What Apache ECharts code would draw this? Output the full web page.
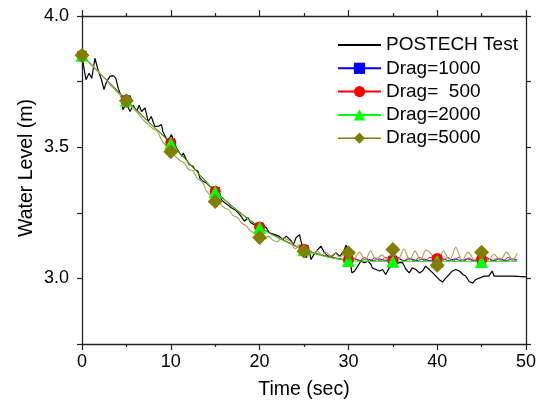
<!DOCTYPE html>
<html><head><meta charset="utf-8">
<script src="https://cdn.jsdelivr.net/npm/echarts@6/dist/echarts.min.js"></script>
<style>html,body{margin:0;padding:0;background:#fff}#c{width:539px;height:407px}</style>
</head><body><div id="c"></div>
<script>
// ---- data ----
const seriesNames = ['POSTECH Test', 'Drag=1000', 'Drag=  500', 'Drag=2000', 'Drag=5000'];
const xTickLabels = ['0', '10', '20', '30', '40', '50'];
const yTickLabels = ['3.0', '3.5', '4.0'];

const postech = [[0,3.845],[0.45,3.757],[0.8,3.782],[1.1,3.763],[1.46,3.839],[1.8,3.795],[2.2,3.757],[2.47,3.72],[2.77,3.75],[3.15,3.77],[3.5,3.773],[3.8,3.763],[4.08,3.725],[4.27,3.707],[4.46,3.687],[4.6,3.643],[5.0,3.668],[5.4,3.636],[5.77,3.66],[6.15,3.636],[6.44,3.66],[6.7,3.636],[7.1,3.65],[7.45,3.598],[7.8,3.617],[8.2,3.579],[8.55,3.579],[8.95,3.586],[9.1,3.56],[9.66,3.522],
[10.07,3.548],[10.3,3.528],[10.64,3.497],[11.0,3.478],[11.27,3.465],[11.4,3.478],[11.76,3.452],[12.1,3.433],[12.5,3.427],[12.7,3.414],[13.07,3.408],[13.26,3.383],[13.6,3.37],[14.0,3.364],[14.4,3.351],[14.75,3.345],[15.2,3.345],[15.5,3.326],[15.7,3.30],[16.07,3.288],[16.4,3.281],[16.8,3.269],[17.2,3.262],[17.6,3.25],[17.9,3.237],[18.1,3.243],[18.3,3.218],[18.7,3.231],[19.0,3.212],[19.4,3.205],
[20.2,3.205],[20.75,3.193],[21.1,3.174],[21.7,3.167],[22.2,3.161],[22.6,3.148],[23.0,3.161],[23.2,3.167],[23.6,3.142],[23.75,3.123],[24.1,3.155],[24.5,3.167],[24.7,3.136],[25.05,3.098],[25.25,3.079],[25.45,3.085],[25.6,3.104],[25.8,3.072],[26.1,3.091],[26.55,3.11],[26.9,3.123],[27.3,3.098],[27.7,3.085],[28.2,3.085],[28.6,3.098],[29.0,3.085],[29.4,3.098],[29.75,3.127],[30.1,3.085],[30.4,3.021],[30.7,3.028],[31.05,3.047],[31.4,3.066],[31.8,3.06],[32.2,3.066],[32.55,3.053],[32.7,3.04],[33.1,3.034],[33.5,3.028],[33.85,3.034],[34.2,3.015],[34.6,3.04],[35.0,3.047],[35.2,3.04],[35.4,3.053],[35.7,3.06],[36.1,3.06],[36.5,3.034],[36.85,3.021],[37.2,3.04],[37.6,3.034],[38.0,3.021],[38.35,3.028],[38.7,3.047],[39.1,3.034],[39.5,3.021],[39.85,3.009],[40.2,2.996],[40.6,2.986],[41.0,3.003],[41.35,3.015],[41.7,3.028],[42.1,3.034],[42.5,3.028],[42.9,3.015],[43.2,3.009],[43.6,2.988],[44.0,2.982],[44.35,2.996],[44.55,2.99],[44.9,3.003],[45.3,3.009],[45.8,3.009],[46.2,3.028],[46.4,3.009],[47.2,3.009],[48.5,3.009],[50,3.006]];

const drag1000 = [[0,3.85],[1,3.815],[2,3.782],[3,3.748],[4,3.714],[5,3.68],[6,3.646],[7,3.613],[8,3.58],[9,3.548],[10,3.516],[11,3.478],[12,3.441],[13,3.404],[14,3.367],[15,3.331],[16,3.301],[17,3.272],[18,3.245],[19,3.219],[20,3.195],[21,3.175],[22,3.157],[23,3.14],[24,3.124],[25,3.11],[26,3.098],[27,3.088],[28,3.08],[29,3.074],[30,3.07],[30.7,3.074],[31.4,3.068],[32.1,3.074],[32.8,3.068],[33.5,3.074],[34.2,3.068],[35,3.069],[35.6,3.074],[36.3,3.068],[37,3.074],[37.7,3.068],[38.4,3.074],[39.1,3.068],[40,3.072],[40.6,3.074],[41.3,3.068],[42,3.074],[42.7,3.068],[43.4,3.074],[44.1,3.068],[45,3.07],[45.7,3.074],[46.4,3.068],[47.1,3.074],[47.8,3.068],[48.5,3.074],[49,3.07]];

const drag500 = [[0,3.85],[1,3.816],[2,3.782],[3,3.748],[4,3.714],[5,3.68],[6,3.647],[7,3.614],[8,3.581],[9,3.549],[10,3.517],[11,3.479],[12,3.442],[13,3.405],[14,3.368],[15,3.332],[16,3.302],[17,3.273],[18,3.246],[19,3.22],[20,3.196],[21,3.176],[22,3.158],[23,3.141],[24,3.125],[25,3.111],[26,3.099],[27,3.089],[28,3.081],[29,3.075],[30,3.07],[30.6,3.078],[31.2,3.066],[31.8,3.08],[32.4,3.066],[33,3.078],[33.6,3.066],[34.2,3.08],[35,3.068],[35.6,3.08],[36.2,3.066],[36.8,3.078],[37.4,3.066],[38,3.08],[38.6,3.066],[39.2,3.08],[40,3.076],[40.6,3.068],[41.2,3.08],[41.8,3.066],[42.4,3.08],[43,3.066],[43.6,3.078],[44.2,3.066],[45,3.072],[45.6,3.08],[46.2,3.066],[46.8,3.078],[47.4,3.066],[48,3.08],[48.6,3.066],[49,3.072]];

const drag2000 = [[0,3.85],[1,3.815],[2,3.781],[3,3.747],[4,3.713],[5,3.679],[6,3.645],[7,3.612],[8,3.579],[9,3.547],[10,3.515],[11,3.477],[12,3.44],[13,3.403],[14,3.366],[15,3.33],[16,3.3],[17,3.271],[18,3.244],[19,3.218],[20,3.194],[21,3.174],[22,3.156],[23,3.139],[24,3.123],[25,3.109],[26,3.097],[27,3.087],[28,3.079],[29,3.073],[30,3.068],[31,3.066],[32,3.065],[33,3.065],[34,3.065],[35,3.065],[36,3.065],[37,3.065],[38,3.065],[39,3.065],[40,3.065],[41,3.065],[42,3.065],[43,3.065],[44,3.065],[45,3.064],[46,3.065],[47,3.065],[48,3.065],[49,3.065]];

const drag5000 = [[0,3.85],[1,3.818],[2,3.783],[3,3.745],[4,3.708],[5,3.677],[6,3.64],[7,3.6],[7.5,3.585],[8,3.57],[8.5,3.56],[9,3.525],[10,3.483],[11,3.45],[11.5,3.44],[12,3.415],[12.5,3.41],[13,3.38],[13.5,3.37],[14,3.335],[15,3.293],[15.5,3.285],[16,3.27],[16.5,3.262],[17,3.24],[17.5,3.232],[18,3.21],[18.5,3.2],[19,3.18],[19.5,3.17],[20,3.156],[20.5,3.15],[21,3.16],[21.5,3.145],[22,3.14],[22.5,3.155],[23,3.15],[23.5,3.14],[24,3.112],[24.5,3.13],[25,3.103],[25.5,3.1],[26,3.095],[26.5,3.105],[27,3.09],[27.5,3.1],[28,3.085],[28.5,3.095],[29,3.082],[29.5,3.092],[30,3.098],[30.6,3.072],[31.25,3.1],[31.9,3.07],[32.5,3.105],[33.1,3.07],[33.75,3.09],[34.4,3.07],[35,3.11],[35.6,3.07],[36.25,3.112],[36.9,3.07],[37.5,3.104],[38.1,3.07],[38.75,3.108],[39.4,3.09],[40,3.05],[40.7,3.105],[41.4,3.07],[42.1,3.118],[42.8,3.068],[43.5,3.1],[44.2,3.07],[45,3.1],[45.7,3.068],[46.4,3.092],[47.1,3.068],[47.8,3.1],[48.5,3.07],[49,3.095]];

// ---- chart ----
const FONT = 'Liberation Sans, Arial, sans-serif';
function withMarkers(arr) {
  return arr.map(p => (Math.abs(p[0] / 5 - Math.round(p[0] / 5)) < 1e-9) ? { value: p } : { value: p, symbol: 'none' });
}
function yLabel(v) {
  const s = v.toFixed(1);
  return yTickLabels.indexOf(s) >= 0 && Math.abs(v * 2 - Math.round(v * 2)) < 1e-6 ? s : '';
}
function xLabel(v) {
  const s = String(Math.round(v));
  return xTickLabels.indexOf(s) >= 0 ? s : '';
}
function axisLine() { return { show: true, onZero: false, lineStyle: { color: '#222', width: 1.3 } }; }
function tickStyle() { return { color: '#222', width: 1.2 }; }

const chart = echarts.init(document.getElementById('c'), null, { renderer: 'canvas' });
chart.setOption({
  animation: false,
  backgroundColor: '#fff',
  grid: { left: 82, right: 12, top: 16, bottom: 63, containLabel: false },
  xAxis: [{
    type: 'value', min: 0, max: 50, interval: 10, position: 'bottom',
    axisLine: axisLine(),
    axisTick: { show: true, inside: false, length: 6, lineStyle: tickStyle() },
    minorTick: { show: true, splitNumber: 2, length: 3, lineStyle: tickStyle() },
    splitLine: { show: false },
    axisLabel: { formatter: xLabel, fontSize: 18, color: '#000', fontFamily: FONT, margin: 9 },
    name: 'Time (sec)', nameLocation: 'middle', nameGap: 36,
    nameTextStyle: { fontSize: 19.5, color: '#000', fontFamily: FONT }
  }, {
    type: 'value', min: 0, max: 50, interval: 10, position: 'top',
    axisLine: axisLine(),
    axisTick: { show: true, inside: false, length: 6, lineStyle: tickStyle() },
    minorTick: { show: true, splitNumber: 2, length: 3, lineStyle: tickStyle() },
    splitLine: { show: false }, axisLabel: { show: false }
  }],
  yAxis: [{
    type: 'value', min: 2.75, max: 4.0, interval: 0.25, position: 'left',
    axisLine: axisLine(),
    axisTick: { show: true, inside: false, length: 5, lineStyle: tickStyle() },
    splitLine: { show: false },
    axisLabel: { formatter: yLabel, fontSize: 18, color: '#000', fontFamily: FONT, margin: 13 }
  }, {
    type: 'value', min: 2.75, max: 4.0, interval: 0.25, position: 'right',
    axisLine: axisLine(),
    axisTick: { show: true, inside: false, length: 5, lineStyle: tickStyle() },
    splitLine: { show: false }, axisLabel: { show: false }
  }],
  graphic: [{
    type: 'text', x: 27, y: 168, rotation: Math.PI / 2,
    style: { text: 'Water Level (m)', fontSize: 19.5, fill: '#000', fontFamily: FONT, align: 'center', verticalAlign: 'middle' }
  }],
  legend: {
    orient: 'vertical', left: 337, top: 35, padding: 0,
    itemWidth: 43, itemHeight: 14, itemGap: 3.3,
    selectedMode: false,
    textStyle: { fontSize: 19, color: '#000', fontFamily: FONT, lineHeight: 20 },
    data: [
      { name: seriesNames[0], itemStyle: { opacity: 0 } },
      { name: seriesNames[1] },
      { name: seriesNames[2] },
      { name: seriesNames[3] },
      { name: seriesNames[4], lineStyle: { color: '#808000', width: 1.5 } }
    ]
  },
  series: [
    { name: seriesNames[0], type: 'line', data: postech, symbol: 'none', showSymbol: false,
      lineStyle: { color: '#000', width: 1.2 }, itemStyle: { color: '#000' }, emphasis: { disabled: true } },
    { name: seriesNames[1], type: 'line', data: withMarkers(drag1000), symbol: 'rect', symbolSize: 9, smooth: 0.3,
      lineStyle: { color: '#0000ff', width: 1 }, itemStyle: { color: '#0000ff', borderWidth: 0 }, emphasis: { disabled: true } },
    { name: seriesNames[2], type: 'line', data: withMarkers(drag500), symbol: 'circle', symbolSize: 11, smooth: 0.3,
      lineStyle: { color: '#ff0000', width: 1 }, itemStyle: { color: '#ff0000', borderWidth: 0 }, emphasis: { disabled: true } },
    { name: seriesNames[3], type: 'line', data: withMarkers(drag2000), symbol: 'triangle', symbolSize: 13, smooth: 0.3,
      lineStyle: { color: '#00ff00', width: 1 }, itemStyle: { color: '#00ff00', borderWidth: 0 }, emphasis: { disabled: true } },
    { name: seriesNames[4], type: 'line', data: withMarkers(drag5000), symbol: 'diamond', symbolSize: 15, smooth: 0.3,
      lineStyle: { color: '#aca55e', width: 1.2 }, itemStyle: { color: '#808000', borderWidth: 0 }, emphasis: { disabled: true } }
  ]
});
</script></body></html>
